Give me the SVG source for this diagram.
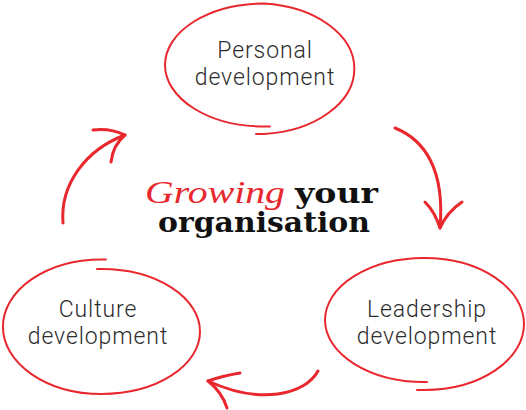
<svg xmlns="http://www.w3.org/2000/svg" width="526" height="410" viewBox="0 0 526 410">
  <style>
    .ring { fill: none; stroke: #e8282e; stroke-width: 2; stroke-linecap: round; stroke-linejoin: round; }
    .arrow { fill: none; stroke: #e8282e; stroke-width: 3; stroke-linecap: round; stroke-linejoin: round; }
    .label { font-family: Roboto, "Liberation Sans", sans-serif; font-weight: 300; font-size: 23px; letter-spacing: 0.9px; fill: #2e2e2e; text-anchor: middle; }
    .script { font-family: "Liberation Serif", serif; font-style: italic; font-size: 32px; fill: #e8282e; }
    .fat { font-family: "DejaVu Serif", serif; font-weight: bold; font-size: 27px; fill: #111; }
  </style>
  <rect width="526" height="410" fill="#ffffff"/>

  <g id="personal">
    <path class="ring" d="M256,134 L264,134 A99,65.5 0 0 0 264,3.5 A99,61.5 0 0 0 264,126.5 L270,126.5"/>
    <text class="label" x="265" y="58">Personal</text>
    <text class="label" x="265" y="85">development</text>
  </g>

  <g id="culture">
    <path class="ring" d="M106,259.5 L101.5,259.5 A98.5,67.2 0 0 0 101.5,394 A98.5,62.5 0 0 0 101.5,269 L97,269"/>
    <text class="label" x="98" y="317">Culture</text>
    <text class="label" x="98" y="344">development</text>
  </g>

  <g id="leadership">
    <path class="ring" d="M417,390 L424.5,390 A99.5,66 0 0 0 424.5,258 A99.5,62 0 0 0 424.5,382 L427,382"/>
    <text class="label" x="427" y="317">Leadership</text>
    <text class="label" x="427" y="344">development</text>
  </g>

  <g id="title">
    <text class="script" x="145" y="203" textLength="140" lengthAdjust="spacingAndGlyphs">Growing</text>
    <text class="fat" x="295" y="203" textLength="83" lengthAdjust="spacingAndGlyphs">your</text>
    <text class="fat" x="158" y="232" textLength="212" lengthAdjust="spacingAndGlyphs">organisation</text>
  </g>

  <g id="connectors">
    <path class="arrow" d="M63,223 C60,185 85,150 125,135"/>
    <path class="arrow" d="M93,130 Q110,128 125,135 Q113,145 111,162"/>
    <path class="arrow" d="M395,128 C425,140 445,170 440,228"/>
    <path class="arrow" d="M425,202 Q435,212 440,228 Q447,212 462,202"/>
    <path class="arrow" d="M318,371 C305,395 260,405 208,381"/>
    <path class="arrow" d="M240,373 Q222,376 208,381 Q222,392 227,408"/>
  </g>
</svg>
